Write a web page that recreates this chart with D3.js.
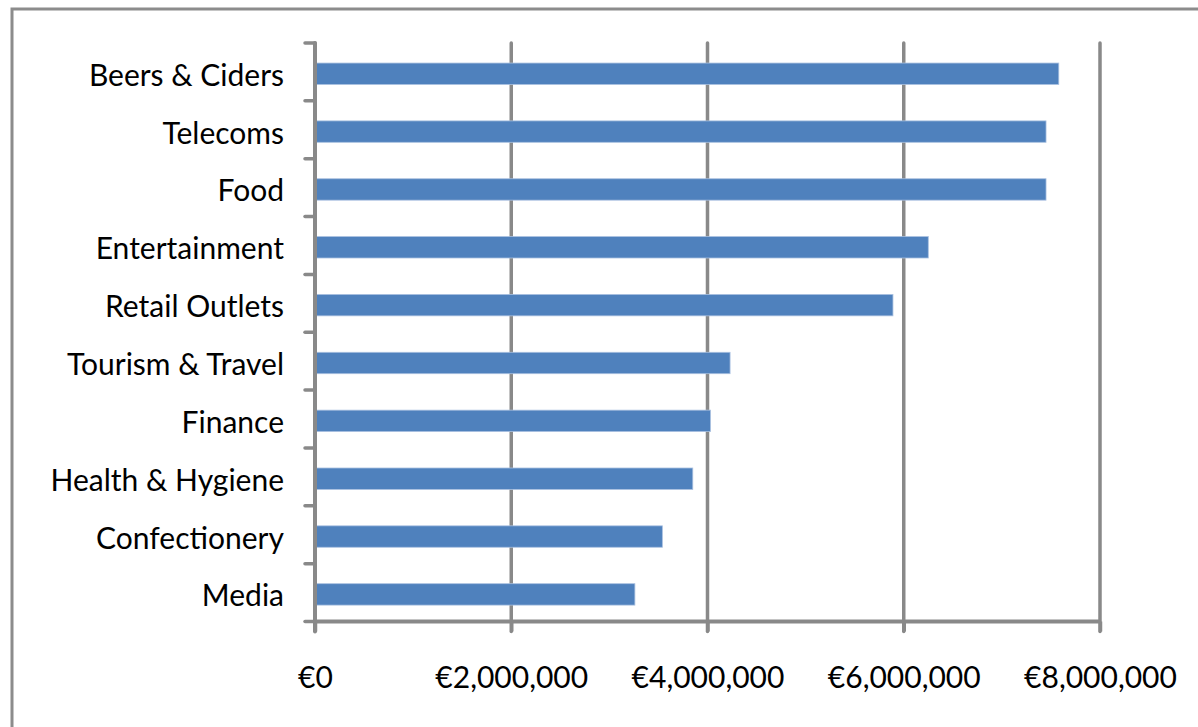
<!DOCTYPE html>
<html>
<head>
<meta charset="utf-8">
<script src="https://cdn.jsdelivr.net/npm/d3@7"></script>
<style>
  html, body { margin: 0; padding: 0; background: #ffffff; }
  svg { display: block; }
  text { font-family: Lato, "Open Sans", sans-serif; fill: #000; }
</style>
</head>
<body>
<svg id="chart" width="1198" height="727"></svg>
<script>
// Sponsorship spend by sector (euro)
const categories = [
  "Beers & Ciders", "Telecoms", "Food", "Entertainment", "Retail Outlets",
  "Tourism & Travel", "Finance", "Health & Hygiene", "Confectionery", "Media"
];
const values = [7580000, 7450000, 7450000, 6250000, 5890000, 4230000, 4030000, 3850000, 3540000, 3260000];
const xTicks = [0, 2000000, 4000000, 6000000, 8000000];

const svg = d3.select("#chart");
const gray = "#898989";
const fontSize = 30;

// frame of the chart object
svg.append("path")
  .attr("d", "M12,727 V9 H1198")
  .attr("fill", "none")
  .attr("stroke", "#8c8c8c")
  .attr("stroke-width", 3);

const plot = { left: 315, right: 1100, top: 43, bottom: 621.5 };

const x = d3.scaleLinear().domain([0, 8000000]).range([plot.left, plot.right]);
const y = d3.scaleBand().domain(categories)
  .range([plot.top, plot.bottom])
  .paddingInner(0.63).paddingOuter(0.315)
  .align(0.55);

// vertical gridlines (extend below the axis as tick marks)
svg.append("g").selectAll("line")
  .data(xTicks.slice(1))
  .join("line")
  .attr("x1", d => x(d)).attr("x2", d => x(d))
  .attr("y1", plot.top).attr("y2", plot.bottom + 10)
  .attr("stroke", gray).attr("stroke-width", 3.5)
  .attr("stroke-linecap", "round");

// bars
svg.append("g").selectAll("rect")
  .data(categories.map((c, i) => ({ c, v: values[i] })))
  .join("rect")
  .attr("x", x(0))
  .attr("y", d => y(d.c))
  .attr("width", d => x(d.v) - x(0))
  .attr("height", y.bandwidth())
  .attr("fill", "#4f81bd")
  .attr("stroke", "#a9c0e0")
  .attr("stroke-width", 0.8);

// x axis
const xAxis = d3.axisBottom(x)
  .tickValues(xTicks)
  .tickSize(10)
  .tickPadding(35)
  .tickFormat(d => "€" + d3.format(",")(d));

const gx = svg.append("g")
  .attr("transform", `translate(0,${plot.bottom})`)
  .call(xAxis);
gx.select(".domain")
  .attr("d", `M${plot.left},0H${plot.right}`)
  .attr("stroke", gray).attr("stroke-width", 4);
gx.selectAll(".tick line").attr("stroke", gray).attr("stroke-width", 3.5);
gx.selectAll(".tick text")
  .attr("font-size", fontSize)
  .attr("font-family", "Lato, sans-serif")
  .attr("fill", "#000");

// y axis line with category boundary ticks
svg.append("line")
  .attr("x1", plot.left).attr("x2", plot.left)
  .attr("y1", plot.top).attr("y2", plot.bottom + 10)
  .attr("stroke", gray).attr("stroke-width", 4)
  .attr("stroke-linecap", "round");

const bounds = d3.range(categories.length + 1).map(i => plot.top + i * y.step());
svg.append("g").selectAll("line")
  .data(bounds)
  .join("line")
  .attr("x1", plot.left - 10).attr("x2", plot.left)
  .attr("y1", d => d).attr("y2", d => d)
  .attr("stroke", gray).attr("stroke-width", 3.5)
  .attr("stroke-linecap", "round");

// category labels
svg.append("g").selectAll("text")
  .data(categories)
  .join("text")
  .attr("x", plot.left - 31)
  .attr("y", d => y(d) + y.bandwidth() / 2 + 12)
  .attr("text-anchor", "end")
  .attr("font-size", fontSize)
  .text(d => d);
</script>
</body>
</html>
